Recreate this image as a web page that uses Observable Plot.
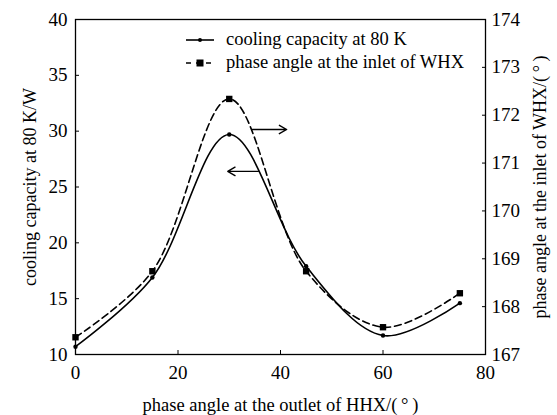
<!DOCTYPE html>
<html><head><meta charset="utf-8">
<script src="https://cdn.jsdelivr.net/npm/d3@7"></script>
<script src="https://cdn.jsdelivr.net/npm/@observablehq/plot@0.6"></script>
<style>
body{margin:0;background:#fff}
#wrap{position:relative;width:557px;height:415px;font-family:"Liberation Serif",serif}
#legend{position:absolute;left:185px;top:28px;font-size:18.5px;line-height:23px;color:#000}
#legend div{display:flex;align-items:center;white-space:nowrap}
#legend svg{margin-right:11px}
</style>
</head><body><div id="wrap"></div>
<script>
// data
const angleOutlet = [0, 15, 30, 45, 60, 75];
const coolingCapacity = [10.7, 16.9, 29.7, 17.9, 11.7, 14.6];
const phaseInlet = [167.36, 168.74, 172.34, 168.74, 167.57, 168.28];
const xTicks = [0, 20, 40, 60, 80];
const leftTicks = [10, 15, 20, 25, 30, 35, 40];
const rightTicks = [167, 168, 169, 170, 171, 172, 173, 174];
const arrowsData = [{x1: 34.5, x2: 41.2, y: 30.15}, {x1: 35.7, x2: 29.7, y: 26.4}];
const seriesNames = ["cooling capacity at 80 K", "phase angle at the inlet of WHX"];

const toLeft = p => 10 + (p - 167) * 30 / 7;
const toRight = v => 167 + (v - 10) * 7 / 30;

const cool = angleOutlet.map((x, i) => ({x, y: coolingCapacity[i]}));
const phase = angleOutlet.map((x, i) => ({x, y: toLeft(phaseInlet[i])}));

const plot = Plot.plot({
  width: 557, height: 415,
  marginLeft: 75, marginRight: 72, marginTop: 19, marginBottom: 61,
  style: {fontFamily: "Liberation Serif, serif", fontSize: "19px", color: "#000", background: "#fff"},
  x: {domain: [0, 80]},
  y: {domain: [10, 40]},
  marks: [
    Plot.frame({stroke: "#000", strokeWidth: 1.3}),
    Plot.axisX({ticks: xTicks, tickSize: -4, tickPadding: 15, fontSize: 19, label: null}),
    Plot.axisX({ticks: [], label: "phase angle at the outlet of HHX/(\u2009°\u2009)",
      labelAnchor: "center", labelOffset: 56, labelArrow: "none", fontSize: 18.5}),
    Plot.axisY({ticks: leftTicks, tickSize: -4, tickPadding: 12, fontSize: 19, label: null}),
    Plot.axisY({ticks: [], label: "cooling capacity at 80 K/W",
      labelAnchor: "center", labelOffset: 52, labelArrow: "none", fontSize: 18}),
    Plot.axisY({anchor: "right", ticks: rightTicks.map(toLeft), tickFormat: d => Math.round(toRight(d)),
      tickSize: -4, tickPadding: 10, fontSize: 19, label: null}),
    Plot.axisY({anchor: "right", ticks: [], label: "phase angle at the inlet of WHX/(\u2009°\u2009)",
      labelAnchor: "center", labelOffset: 60, labelArrow: "none", fontSize: 18}),
    Plot.line(cool, {x: "x", y: "y", curve: "catmull-rom", stroke: "#000", strokeWidth: 1.6}),
    Plot.line(phase, {x: "x", y: "y", curve: "catmull-rom", stroke: "#000", strokeWidth: 1.6, strokeDasharray: "7,4"}),
    Plot.dot(cool, {x: "x", y: "y", r: 2.2, fill: "#000"}),
    Plot.dot(phase, {x: "x", y: "y", symbol: "square", r: 3.6, fill: "#000"}),
    Plot.arrow(arrowsData, {x1: "x1", x2: "x2", y1: "y", y2: "y", stroke: "#000", strokeWidth: 1.4, headLength: 9, bend: 0})
  ]
});

const wrap = document.getElementById("wrap");
wrap.appendChild(plot);

const legend = document.createElement("div");
legend.id = "legend";
legend.innerHTML = `
<div><svg width="30" height="10"><line x1="1" x2="29" y1="5" y2="5" stroke="#000" stroke-width="1.6"/><circle cx="15" cy="5" r="2" fill="#000"/></svg>${seriesNames[0]}</div>
<div><svg width="30" height="10"><line x1="1" x2="29" y1="5" y2="5" stroke="#000" stroke-width="1.6" stroke-dasharray="5,5"/><rect x="11.5" y="1.5" width="7" height="7" fill="#000"/></svg>${seriesNames[1]}</div>`;
wrap.appendChild(legend);
</script>
</body></html>
